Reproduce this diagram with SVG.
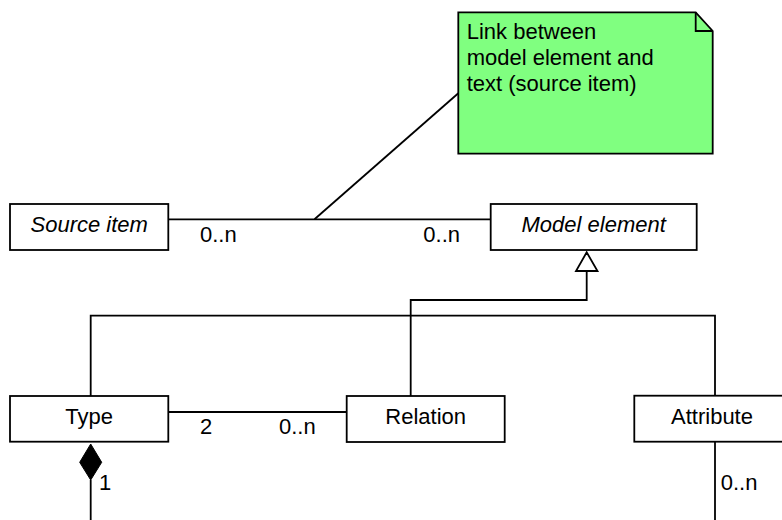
<svg xmlns="http://www.w3.org/2000/svg" width="782" height="520" viewBox="0 0 782 520">
  <style>
    .box { fill: #ffffff; stroke: #000000; stroke-width: 1.8; }
    .note { fill: #80ff80; stroke: #000000; stroke-width: 1.8; }
    .line { fill: none; stroke: #000000; stroke-width: 1.8; }
    .name { font-family: "Liberation Sans", Arial, sans-serif; font-size: 22px; fill: #000000; text-anchor: middle; }
    .abstract { font-style: italic; }
    .lbl { font-family: "Liberation Sans", Arial, sans-serif; font-size: 22px; fill: #000000; }
  </style>

  <!-- connectors -->
  <g id="connectors">
    <!-- association Source item - Model element -->
    <line class="line" x1="168.3" y1="219.3" x2="490.7" y2="219.3"/>
    <!-- note anchor -->
    <line class="line" x1="314.5" y1="219.3" x2="458.3" y2="93.3"/>
    <!-- generalization tree -->
    <polygon class="box" points="586.7,252.3 576,271 597.5,271"/>
    <polyline class="line" points="586.7,271 586.7,300 410.7,300 410.7,396"/>
    <polyline class="line" points="90.7,396 90.7,315.7 715,315.7 715,395.7"/>
    <!-- association Type - Relation -->
    <line class="line" x1="168.3" y1="412" x2="346.7" y2="412"/>
    <!-- composition from Type -->
    <polygon points="90.7,444 101.7,462.3 90.7,480 79.7,462.3" fill="#000000" stroke="#000000" stroke-width="1"/>
    <line class="line" x1="90.7" y1="480" x2="90.7" y2="520"/>
    <!-- association below Attribute -->
    <line class="line" x1="715" y1="441.7" x2="715" y2="520"/>

    <!-- multiplicities -->
    <text class="lbl" x="200" y="242.3">0..n</text>
    <text class="lbl" x="423.3" y="242.3">0..n</text>
    <text class="lbl" x="200" y="434">2</text>
    <text class="lbl" x="279" y="434">0..n</text>
    <text class="lbl" x="99" y="490">1</text>
    <text class="lbl" x="720.7" y="490">0..n</text>
  </g>

  <!-- note -->
  <g id="note">
    <polygon class="note" points="458.3,12.3 695.7,12.3 712.7,31 712.7,153.7 458.3,153.7"/>
    <polyline class="line" points="695.7,12.3 695.7,31 712.7,31"/>
    <text class="lbl" x="466.7" y="39.3">Link between</text>
    <text class="lbl" x="466.7" y="65">model element and</text>
    <text class="lbl" x="466.7" y="90.7">text (source item)</text>
  </g>

  <g id="source-item">
    <rect class="box" x="10" y="204" width="158.3" height="46"/>
    <text class="name abstract" x="89.2" y="232.3">Source item</text>
  </g>

  <g id="model-element">
    <rect class="box" x="490.7" y="204" width="206" height="46"/>
    <text class="name abstract" x="593.7" y="232.3">Model element</text>
  </g>

  <g id="type">
    <rect class="box" x="10" y="396" width="158.3" height="45.7"/>
    <text class="name" x="89.2" y="423.5">Type</text>
  </g>

  <g id="relation">
    <rect class="box" x="346.7" y="396" width="158" height="46"/>
    <text class="name" x="425.7" y="424">Relation</text>
  </g>

  <g id="attribute">
    <rect class="box" x="634.3" y="395.7" width="158" height="46"/>
    <text class="name" x="712" y="424">Attribute</text>
  </g>
</svg>
